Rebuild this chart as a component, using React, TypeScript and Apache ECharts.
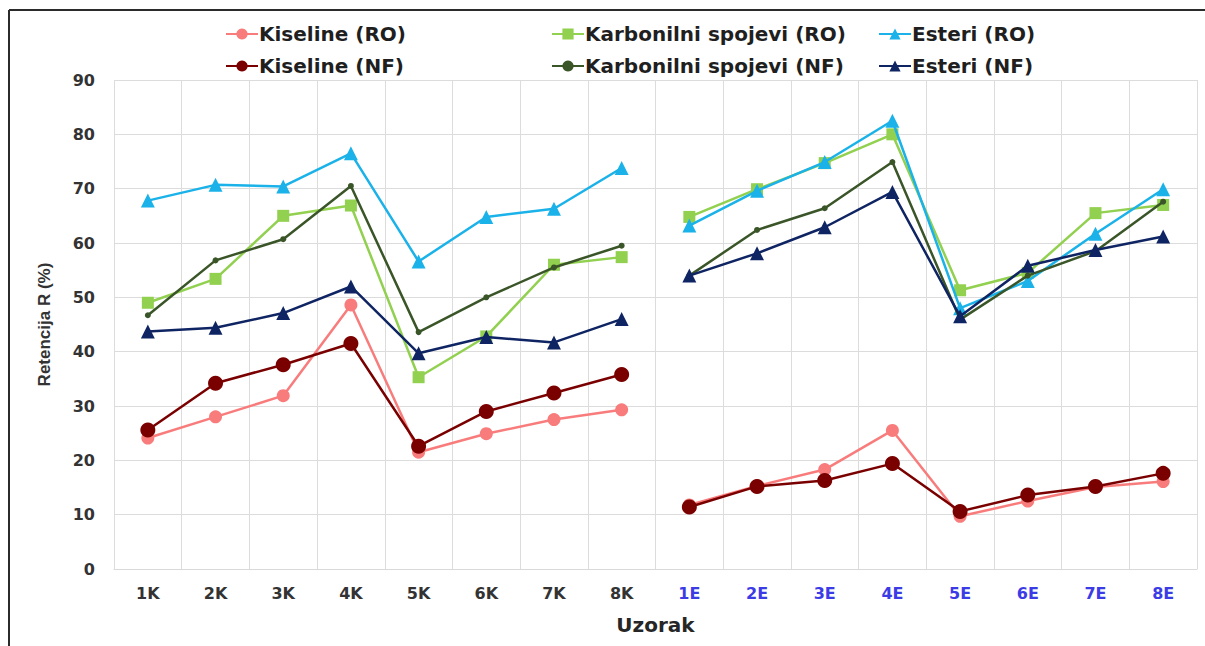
import React, { useEffect, useRef } from "react";
import * as echarts from "echarts";

const categories = ["1K", "2K", "3K", "4K", "5K", "6K", "7K", "8K", "1E", "2E", "3E", "4E", "5E", "6E", "7E", "8E"];
const yTicks = [0, 90, 10];

const kiselineRO = [24.1, 28.0, 31.9, 48.6, 21.5, 24.9, 27.5, 29.3, 11.8, 15.3, 18.3, 25.5, 9.7, 12.5, 15.1, 16.1];
const kiselineNF = [25.6, 34.2, 37.6, 41.5, 22.6, 29.0, 32.4, 35.8, 11.4, 15.2, 16.3, 19.4, 10.6, 13.6, 15.2, 17.6];
const karbonilniRO = [49.0, 53.4, 65.0, 66.9, 35.3, 42.8, 56.0, 57.4, 64.8, 69.9, 74.7, 80.0, 51.3, 54.5, 65.5, 67.0];
const karbonilniNF = [46.7, 56.8, 60.7, 70.5, 43.6, 50.0, 55.5, 59.5, 54.0, 62.4, 66.4, 74.9, 45.9, 54.0, 58.5, 67.6];
const esteriRO = [67.8, 70.7, 70.4, 76.5, 56.6, 64.8, 66.3, 73.8, 63.2, 69.6, 74.9, 82.5, 48.0, 53.0, 61.7, 69.9];
const esteriNF = [43.7, 44.4, 47.1, 52.0, 39.7, 42.7, 41.7, 46.0, 54.0, 58.1, 62.9, 69.4, 46.5, 55.8, 58.7, 61.2];

const seriesDefs = [
  { name: "Kiseline (RO)", data: kiselineRO, color: "#f97c7c", symbol: "circle", size: 13, z: 2 },
  { name: "Kiseline (NF)", data: kiselineNF, color: "#7a0000", symbol: "circle", size: 15, z: 5 },
  { name: "Karbonilni spojevi (RO)", data: karbonilniRO, color: "#92d050", symbol: "rect", size: 12, z: 3 },
  { name: "Karbonilni spojevi (NF)", data: karbonilniNF, color: "#3a5528", symbol: "circle", size: 6, z: 6 },
  { name: "Esteri (RO)", data: esteriRO, color: "#1ab2e8", symbol: "triangle", size: 14, z: 4 },
  { name: "Esteri (NF)", data: esteriNF, color: "#0f2463", symbol: "triangle", size: 14, z: 7 },
];

const legendLayout: { name: string; left: number; top: number }[] = [
  { name: "Kiseline (RO)", left: 225, top: 24 },
  { name: "Karbonilni spojevi (RO)", left: 551, top: 24 },
  { name: "Esteri (RO)", left: 878, top: 24 },
  { name: "Kiseline (NF)", left: 225, top: 56 },
  { name: "Karbonilni spojevi (NF)", left: 551, top: 56 },
  { name: "Esteri (NF)", left: 878, top: 56 },
];

const WIDE = "'DejaVu Sans', sans-serif";
const NARROW = "'Liberation Sans', Arial, sans-serif";

export default function App() {
  const ref = useRef<HTMLDivElement>(null);
  useEffect(() => {
    if (!ref.current) return;
    const chart = echarts.init(ref.current, undefined, { renderer: "svg" });
    const half = categories.length / 2;
    const series: any[] = [];
    seriesDefs.forEach((s) => {
      const parts = [
        s.data.map((v, i) => (i < half ? v : null)),
        s.data.map((v, i) => (i >= half ? v : null)),
      ];
      parts.forEach((d) => {
        series.push({
          type: "line",
          name: s.name,
          data: d,
          connectNulls: false,
          symbol: s.symbol,
          symbolSize: s.size,
          showSymbol: true,
          z: s.z,
          itemStyle: { color: s.color },
          lineStyle: { color: s.color, width: 2.5 },
        });
      });
    });
    chart.setOption({
      animation: false,
      backgroundColor: "#ffffff",
      textStyle: { fontFamily: WIDE },
      legend: legendLayout.map((l) => ({
        data: [l.name],
        left: l.left,
        top: l.top,
        itemWidth: 32,
        itemHeight: 14,
        itemGap: 0,
        padding: 0,
        textStyle: { fontSize: 20, fontWeight: "bold", color: "#1f1f1f", fontFamily: WIDE, padding: [0, 0, 0, -4] },
      })),
      grid: { left: 114, right: 8, top: 80, bottom: 77, containLabel: false },
      xAxis: {
        type: "category",
        data: categories,
        boundaryGap: true,
        name: "Uzorak",
        nameLocation: "middle",
        nameGap: 46,
        nameTextStyle: { fontSize: 20, fontWeight: "bold", color: "#262626", fontFamily: WIDE },
        axisLine: { show: true, lineStyle: { color: "#d9d9d9", width: 1 } },
        axisTick: { show: false },
        splitLine: { show: true, lineStyle: { color: "#dcdcdc", width: 1 } },
        axisLabel: {
          interval: 0,
          margin: 16,
          fontSize: 16,
          fontWeight: "bold",
          fontFamily: WIDE,
          color: (v: string) => (v.endsWith("E") ? "#3c3ce6" : "#333333"),
        },
      },
      yAxis: {
        type: "value",
        min: yTicks[0],
        max: yTicks[1],
        interval: yTicks[2],
        name: "Retencija R (%)",
        nameLocation: "middle",
        nameGap: 61,
        nameTextStyle: { fontSize: 17, fontWeight: "bold", color: "#333333", fontFamily: NARROW },
        axisLine: { show: false },
        axisTick: { show: false },
        splitLine: { show: true, lineStyle: { color: "#dcdcdc", width: 1 } },
        axisLabel: { fontSize: 16, fontWeight: "bold", color: "#333333", margin: 19, fontFamily: WIDE },
      },
      graphic: [
        { type: "line", shape: { x1: 9, y1: 10, x2: 1205, y2: 10 }, style: { stroke: "#2b2b2b", lineWidth: 2 } },
        { type: "line", shape: { x1: 9, y1: 10, x2: 9, y2: 646 }, style: { stroke: "#2b2b2b", lineWidth: 2 } },
      ],
      series,
    });
    return () => chart.dispose();
  }, []);
  return (
    <div
      ref={ref}
      style={{ position: "absolute", left: 0, top: 0, width: 1205, height: 646 }}
    />
  );
}
